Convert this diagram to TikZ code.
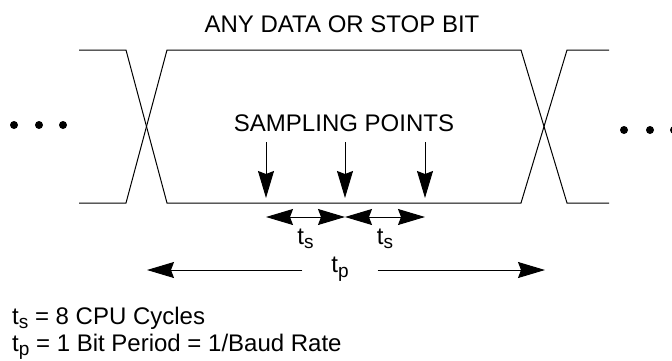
\documentclass[tikz,border=0pt]{standalone}
\usepackage{fontspec}
\setmainfont{Liberation Sans}
\usetikzlibrary{arrows.meta}
\newcommand{\lowsub}[1]{\raisebox{-4.5pt}{\fontsize{19}{20}\selectfont #1}}
\tikzstyle{wave} = [line width=1pt, black]
\tikzstyle{arrow} = [line width=1pt, -{Stealth[length=27pt,width=16pt,inset=3pt]}]
\tikzstyle{dblarrow} = [line width=1pt, {Stealth[length=27pt,width=16pt,inset=3pt]}-{Stealth[length=27pt,width=16pt,inset=3pt]}]
\tikzstyle{txt} = [font=\fontsize{24}{28}\selectfont, inner sep=0pt]
\tikzstyle{dot} = [circle, fill=black, inner sep=0pt, minimum size=8pt]

\begin{document}
\begin{tikzpicture}[x=1pt,y=-1pt]
\useasboundingbox (0,0) rectangle (672,360);

% waveform
\draw [wave] (79,50) -- (126,50) -- (167,203) -- (521,203) -- (567,50) -- (609,50);
\draw [wave] (79,203) -- (126,203) -- (167,50) -- (521,50) -- (567,203) -- (609,203);

% dots
\node (dl1) [dot] at (14,125) {};
\node (dl2) [dot] at (39,125) {};
\node (dl3) [dot] at (63,125) {};
\node (dr1) [dot] at (624,130) {};
\node (dr2) [dot] at (650,130) {};
\node (dr3) [dot] at (674,130) {};

\node (title) [txt, anchor=base] at (342,32) {ANY DATA OR STOP BIT};
\node (sampling) [txt, anchor=base] at (344,131) {SAMPLING POINTS};

% sampling points
\coordinate (a1) at (266,142);
\coordinate (a2) at (345,142);
\coordinate (a3) at (425,142);
\coordinate (s1) at (266,203);
\coordinate (s2) at (345,203);
\coordinate (s3) at (425,203);
\draw [arrow, shorten >=5pt] (a1) -- (s1);
\draw [arrow, shorten >=5pt] (a2) -- (s2);
\draw [arrow, shorten >=5pt] (a3) -- (s3);

\coordinate (m1) at (266,217);
\coordinate (m2) at (345,217);
\coordinate (m3) at (425,217);
\draw [dblarrow] (m1) -- node (ts1) [txt, below=11pt] {t\lowsub{s}} (m2);
\draw [dblarrow] (m2) -- node (ts2) [txt, below=11pt] {t\lowsub{s}} (m3);

% bit period
\coordinate (tpl) at (147,270);
\coordinate (tpr) at (545,270);
\node (tp) [txt, minimum width=75pt] at (340,269) {t\lowsub{p}};
\draw [arrow] (tp.west |- tpl) -- (tpl);
\draw [arrow] (tp.east |- tpr) -- (tpr);

\node (leg1) [txt, anchor=base west] at (12,324) {t\lowsub{s} = 8 CPU Cycles};
\node (leg2) [txt, anchor=base west] at (12,351) {t\lowsub{p} = 1 Bit Period = 1/Baud Rate};

\end{tikzpicture}
\end{document}
